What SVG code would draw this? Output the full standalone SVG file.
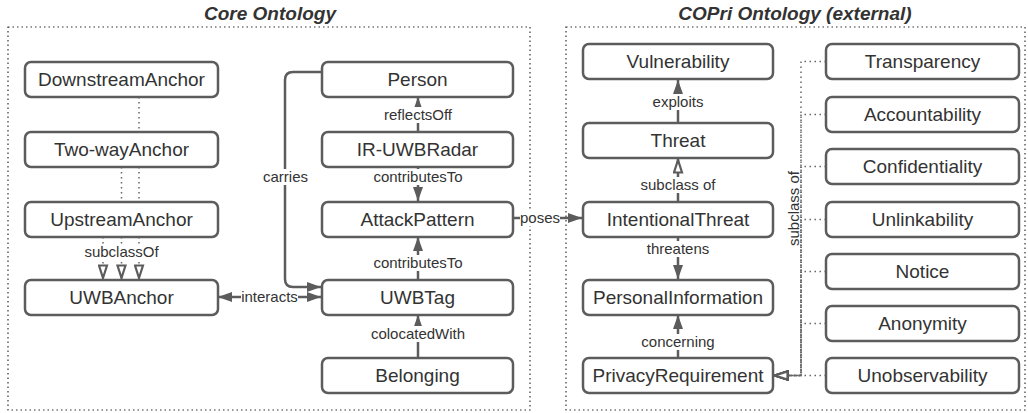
<svg xmlns="http://www.w3.org/2000/svg" width="1028" height="413" viewBox="0 0 1028 413">
<style>
.panel{fill:none;stroke:#333;stroke-width:1.2;stroke-dasharray:1.5 3}
.title{font-family:"Liberation Sans",Arial,sans-serif;font-size:19px;font-weight:bold;font-style:italic;fill:#333;text-anchor:middle}
.node rect{fill:#fff;stroke:#5c5c5c;stroke-width:2.5}
.node text{font-family:"Liberation Sans",Arial,sans-serif;font-size:19px;fill:#333;text-anchor:middle}
.solid{fill:none;stroke:#5c5c5c;stroke-width:2.5;marker-end:url(#arr)}
.sub{fill:none;stroke:#5c5c5c;stroke-width:2.5;marker-end:url(#tri)}
.dot{fill:none;stroke:#666;stroke-width:1.5;stroke-dasharray:1.5 3.5;marker-end:url(#tri)}
.lbl{font-family:"Liberation Sans",Arial,sans-serif;font-size:15px;fill:#333;text-anchor:middle}
.bg{fill:#fff}
</style>
<defs>
<marker id="arr" viewBox="0 0 14 10" refX="14" refY="5" markerWidth="14" markerHeight="10" markerUnits="userSpaceOnUse" orient="auto-start-reverse">
<path d="M0,0 L14,5 L0,10 Z" fill="#5c5c5c"/>
</marker>
<marker id="tri" viewBox="0 0 16 11" refX="15" refY="5.5" markerWidth="16" markerHeight="11" markerUnits="userSpaceOnUse" orient="auto">
<path d="M1.5,1.5 L14,5.5 L1.5,9.5 Z" fill="#fff" stroke="#5c5c5c" stroke-width="2.2" stroke-dasharray="none"/>
</marker>
</defs>
<rect width="1028" height="413" fill="#fff"/>
<rect class="panel" x="8" y="27" width="522" height="383"/>
<rect class="panel" x="566" y="27" width="459" height="383"/>
<text class="title" x="270" y="20">Core Ontology</text>
<text class="title" x="795" y="20">COPri Ontology (external)</text>
<g id="connectors">
<path class="dot" d="M139,97 V279"/>
<path class="dot" d="M121.5,167 V279"/>
<path class="dot" d="M103,237 V279"/>
<path class="solid" d="M322,72 H293 Q285,72 285,80 V279 Q285,287 293,287 H321"/>
<path class="solid" d="M218,297 H321" style="marker-start:url(#arr)"/>
<path class="solid" d="M418,132 V97"/>
<path class="solid" d="M418,167 V201"/>
<path class="solid" d="M418,280 V237"/>
<path class="solid" d="M418,358 V315"/>
<path class="solid" d="M513,218 H582"/>
<path class="solid" d="M678,123 V80"/>
<path class="sub" d="M678,202 V159"/>
<path class="solid" d="M678,237 V279"/>
<path class="solid" d="M678,358 V315"/>
<path class="dot" d="M826,61.5 H801 V375.5 H774"/>
<path class="dot" d="M826,114.5 H801 V375.5 H774"/>
<path class="dot" d="M826,166.5 H801 V375.5 H774"/>
<path class="dot" d="M826,219.5 H801 V375.5 H774"/>
<path class="dot" d="M826,271.5 H801 V375.5 H774"/>
<path class="dot" d="M826,323.5 H801 V375.5 H774"/>
<path class="dot" d="M826,375.5 H774"/>
<rect class="bg" x="84" y="244" width="76" height="16"/>
<text class="lbl" x="121.5" y="257">subclassOf</text>
<rect class="bg" x="265" y="169" width="41" height="16"/>
<text class="lbl" x="285.5" y="182">carries</text>
<rect class="bg" x="241" y="289" width="57" height="16"/>
<text class="lbl" x="269.5" y="302">interacts</text>
<rect class="bg" x="382" y="107" width="72" height="16"/>
<text class="lbl" x="418" y="120">reflectsOff</text>
<rect class="bg" x="372" y="169" width="92" height="16"/>
<text class="lbl" x="418" y="182">contributesTo</text>
<rect class="bg" x="372" y="255" width="92" height="16"/>
<text class="lbl" x="418" y="268">contributesTo</text>
<rect class="bg" x="370" y="326" width="96" height="16"/>
<text class="lbl" x="418" y="339">colocatedWith</text>
<rect class="bg" x="520" y="210" width="40" height="16"/>
<text class="lbl" x="540" y="223">poses</text>
<rect class="bg" x="651" y="94" width="54" height="16"/>
<text class="lbl" x="678" y="107">exploits</text>
<rect class="bg" x="640" y="177" width="76" height="16"/>
<text class="lbl" x="678" y="190">subclass of</text>
<rect class="bg" x="645" y="241" width="66" height="16"/>
<text class="lbl" x="678" y="254">threatens</text>
<rect class="bg" x="641" y="334" width="74" height="16"/>
<text class="lbl" x="678" y="347">concerning</text>
<text class="lbl" transform="translate(798.5,208.5) rotate(-90)" x="0" y="0">subclass of</text>
</g>
<g id="DownstreamAnchor" class="node"><rect x="25" y="62" width="193" height="35" rx="6"/><text x="121.5" y="86">DownstreamAnchor</text></g>
<g id="TwoWayAnchor" class="node"><rect x="25" y="132" width="193" height="35" rx="6"/><text x="121.5" y="156">Two-wayAnchor</text></g>
<g id="UpstreamAnchor" class="node"><rect x="25" y="202" width="193" height="35" rx="6"/><text x="121.5" y="226">UpstreamAnchor</text></g>
<g id="UWBAnchor" class="node"><rect x="25" y="280" width="193" height="35" rx="6"/><text x="121.5" y="304">UWBAnchor</text></g>
<g id="Person" class="node"><rect x="322" y="62" width="191" height="35" rx="6"/><text x="417.5" y="86">Person</text></g>
<g id="IR-UWBRadar" class="node"><rect x="322" y="132" width="191" height="35" rx="6"/><text x="417.5" y="156">IR-UWBRadar</text></g>
<g id="AttackPattern" class="node"><rect x="322" y="202" width="191" height="35" rx="6"/><text x="417.5" y="226">AttackPattern</text></g>
<g id="UWBTag" class="node"><rect x="322" y="280" width="191" height="35" rx="6"/><text x="417.5" y="304">UWBTag</text></g>
<g id="Belonging" class="node"><rect x="322" y="358" width="191" height="35" rx="6"/><text x="417.5" y="382">Belonging</text></g>
<g id="Vulnerability" class="node"><rect x="583" y="44" width="190" height="35" rx="6"/><text x="678" y="68">Vulnerability</text></g>
<g id="Threat" class="node"><rect x="583" y="123" width="190" height="35" rx="6"/><text x="678" y="147">Threat</text></g>
<g id="IntentionalThreat" class="node"><rect x="583" y="202" width="190" height="35" rx="6"/><text x="678" y="226">IntentionalThreat</text></g>
<g id="PersonalInformation" class="node"><rect x="583" y="280" width="190" height="35" rx="6"/><text x="678" y="304">PersonalInformation</text></g>
<g id="PrivacyRequirement" class="node"><rect x="583" y="358" width="190" height="35" rx="6"/><text x="678" y="382">PrivacyRequirement</text></g>
<g id="Transparency" class="node"><rect x="826" y="44" width="193" height="35" rx="6"/><text x="922.5" y="68">Transparency</text></g>
<g id="Accountability" class="node"><rect x="826" y="97" width="193" height="35" rx="6"/><text x="922.5" y="121">Accountability</text></g>
<g id="Confidentiality" class="node"><rect x="826" y="149" width="193" height="35" rx="6"/><text x="922.5" y="173">Confidentiality</text></g>
<g id="Unlinkability" class="node"><rect x="826" y="202" width="193" height="35" rx="6"/><text x="922.5" y="226">Unlinkability</text></g>
<g id="Notice" class="node"><rect x="826" y="254" width="193" height="35" rx="6"/><text x="922.5" y="278">Notice</text></g>
<g id="Anonymity" class="node"><rect x="826" y="306" width="193" height="35" rx="6"/><text x="922.5" y="330">Anonymity</text></g>
<g id="Unobservability" class="node"><rect x="826" y="358" width="193" height="35" rx="6"/><text x="922.5" y="382">Unobservability</text></g>
</svg>
